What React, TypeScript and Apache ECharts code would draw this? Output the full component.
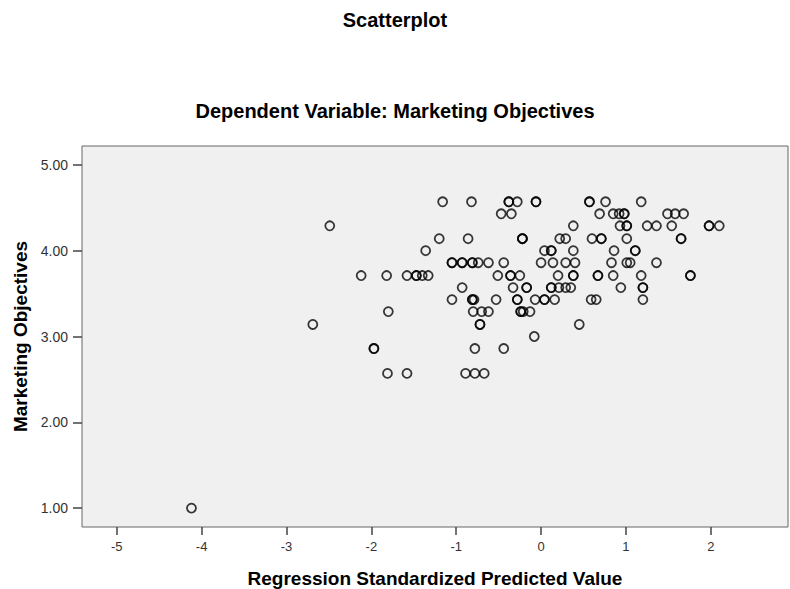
import React, { useEffect, useRef } from "react";
import * as echarts from "echarts";

// Observed Marketing Objectives scores (averages of seven items)
const observedLevels: number[] = [
  4.57, 4.43, 4.29, 4.14, 4.0, 3.86, 3.71, 3.57, 3.43, 3.29, 3.14, 3.0, 2.86, 2.57, 1.0,
];

// Regression standardized predicted values for the cases at each observed level
const predictedAt457: number[] = [-1.16, -0.82, -0.38, -0.38, -0.28, -0.06, -0.06, 0.57, 0.57, 0.76, 1.18];
const predictedAt443: number[] = [-0.47, -0.35, 0.69, 0.85, 0.92, 0.98, 0.98, 1.49, 1.58, 1.68];
const predictedAt429: number[] = [-2.49, 0.38, 0.93, 1.01, 1.01, 1.25, 1.36, 1.54, 1.98, 1.98, 2.1];
const predictedAt414: number[] = [-1.2, -0.86, -0.22, -0.22, -0.22, 0.22, 0.29, 0.6, 0.71, 0.71, 1.01, 1.65, 1.65];
const predictedAt400: number[] = [-1.36, 0.04, 0.12, 0.12, 0.38, 0.86, 1.11, 1.11];
const predictedAt386: number[] = [-1.05, -1.05, -0.93, -0.93, -0.81, -0.81, -0.74, -0.62, -0.44, 0.0, 0.14, 0.29, 0.4, 0.83, 1.01, 1.05, 1.36];
const predictedAt371: number[] = [-2.12, -1.82, -1.58, -1.47, -1.47, -1.4, -1.33, -0.51, -0.36, -0.36, -0.25, 0.2, 0.38, 0.38, 0.67, 0.67, 0.85, 1.18, 1.76, 1.76];
const predictedAt357: number[] = [-0.93, -0.33, -0.17, -0.17, 0.12, 0.12, 0.21, 0.29, 0.35, 0.94, 1.2, 1.2];
const predictedAt343: number[] = [-1.05, -0.81, -0.81, -0.79, -0.53, -0.28, -0.28, -0.07, 0.04, 0.04, 0.16, 0.59, 0.65, 1.2];
const predictedAt329: number[] = [-1.8, -0.8, -0.7, -0.62, -0.24, -0.24, -0.21, -0.13];
const predictedAt314: number[] = [-2.69, -0.72, -0.72, 0.45];
const predictedAt300: number[] = [-0.08];
const predictedAt286: number[] = [-1.97, -1.97, -0.78, -0.44];
const predictedAt257: number[] = [-1.81, -1.58, -0.89, -0.78, -0.67];
const predictedAt100: number[] = [-4.12];

const predictedByLevel: number[][] = [
  predictedAt457, predictedAt443, predictedAt429, predictedAt414, predictedAt400,
  predictedAt386, predictedAt371, predictedAt357, predictedAt343, predictedAt329,
  predictedAt314, predictedAt300, predictedAt286, predictedAt257, predictedAt100,
];

// Axis tick positions
const xTicks: number[] = [-5, -4, -3, -2, -1, 0, 1, 2];
const yTicks: number[] = [1, 2, 3, 4, 5];

export default function App() {
  const ref = useRef<HTMLDivElement>(null);

  useEffect(() => {
    document.body.style.margin = "0";
    if (!ref.current) return;
    const chart = echarts.init(ref.current, null, { renderer: "svg" });

    const points: number[][] = [];
    predictedByLevel.forEach((xs, i) => {
      xs.forEach((x) => points.push([x, observedLevels[i]]));
    });

    const font = "Arial, 'Liberation Sans', sans-serif";

    chart.setOption({
      animation: false,
      backgroundColor: "#ffffff",
      title: [
        {
          text: "Scatterplot",
          left: "center",
          top: 5,
          textStyle: { fontFamily: font, fontSize: 20, fontWeight: "bold", color: "#000" },
        },
        {
          text: "Dependent Variable: Marketing Objectives",
          left: "center",
          top: 96,
          textStyle: { fontFamily: font, fontSize: 20, fontWeight: "bold", color: "#000" },
        },
      ],
      grid: {
        left: 82,
        right: 2,
        top: 146,
        bottom: 62,
        outerBoundsMode: "none",
        show: true,
        backgroundColor: "#f0f0f0",
        borderColor: "#666",
        borderWidth: 1,
      },
      xAxis: {
        type: "value",
        min: -5.41,
        max: 2.91,
        name: "Regression Standardized Predicted Value",
        nameLocation: "middle",
        nameGap: 42,
        nameTextStyle: { fontFamily: font, fontSize: 19, fontWeight: "bold", color: "#000" },
        axisLine: { show: false, onZero: false },
        splitLine: { show: false },
        axisTick: {
          show: true,
          length: 8,
          customValues: xTicks,
          lineStyle: { color: "#444", width: 1.5 },
        },
        axisLabel: {
          customValues: xTicks,
          margin: 13,
          fontFamily: font,
          fontSize: 13,
          color: "#333",
        },
      },
      yAxis: {
        type: "value",
        min: 0.78,
        max: 5.22,
        name: "Marketing Objectives",
        nameLocation: "middle",
        nameGap: 51,
        nameRotate: 90,
        nameTextStyle: { fontFamily: font, fontSize: 19, fontWeight: "bold", color: "#000" },
        axisLine: { show: false, onZero: false },
        splitLine: { show: false },
        axisTick: {
          show: true,
          length: 9,
          customValues: yTicks,
          lineStyle: { color: "#444", width: 1.5 },
        },
        axisLabel: {
          customValues: yTicks,
          margin: 14,
          fontFamily: font,
          fontSize: 14,
          color: "#333",
          formatter: (v: number) => v.toFixed(2),
        },
      },
      series: [
        {
          type: "scatter",
          data: points,
          symbol: "circle",
          symbolSize: 9,
          itemStyle: {
            color: "rgba(0,0,0,0)",
            borderColor: "#000",
            borderWidth: 1.8,
            opacity: 0.78,
          },
        },
      ],
    });

    return () => chart.dispose();
  }, []);

  return <div ref={ref} style={{ width: 790, height: 589 }} />;
}
